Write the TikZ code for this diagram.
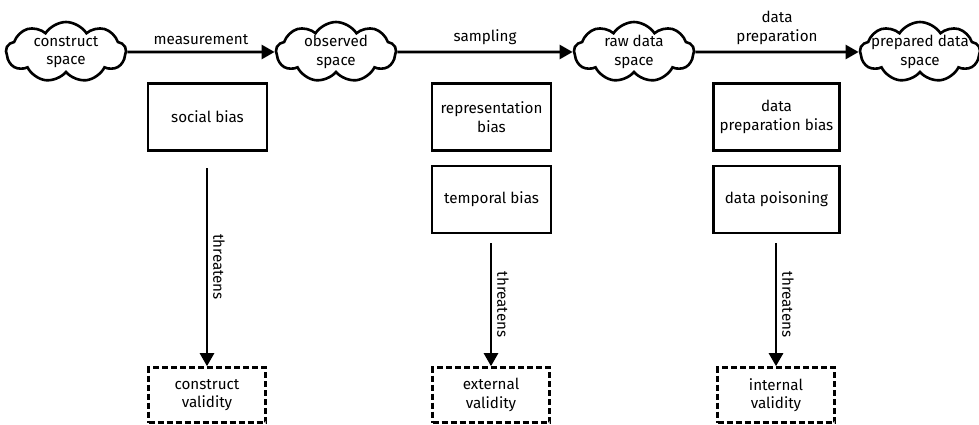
\documentclass[tikz,border=0pt]{standalone}
\usepackage{fontspec}
\setmainfont{Fira Sans}
\usetikzlibrary{shapes.symbols,arrows.meta}
\begin{document}
\begin{tikzpicture}[x=1pt,y=-1pt,
  every node/.style={font=\fontsize{15.2}{18.5}\selectfont, align=center},
  spacecloud/.style={cloud, draw, line width=2.6pt, cloud puffs=9, cloud puff arc=115, aspect=2.0, minimum width=120pt, minimum height=60pt, inner sep=0pt},
  biasbox/.style={draw, line width=2.6pt, minimum width=119pt, minimum height=67pt, inner sep=2pt},
  validbox/.style={draw, line width=2.6pt, dashed, dash pattern=on 6pt off 3pt, minimum width=117pt, minimum height=55pt, inner sep=2pt},
  flow/.style={line width=2.6pt, -{Triangle[length=13pt,width=14pt]}},
  tlabel/.style={rotate=-90, anchor=south, inner sep=5pt}
]
\useasboundingbox (0,0) rectangle (979,425);
\node[spacecloud, label={center:construct\\space}] (cs) at (66,52) {};
\node[spacecloud, label={center:observed\\space}] (os) at (336,52) {};
\node[spacecloud, label={center:raw data\\space}] (rs) at (634,52) {};
\node[spacecloud, label={center:prepared data\\space}] (ps) at (920,52) {};

\draw[flow] (cs.east) -- node[above, inner sep=6pt] (lm) {measurement} (os.west);
\draw[flow] (os.east) -- node[above, inner sep=6pt] (ls) {sampling} (rs.west);
\draw[flow] (rs.east) -- node[above, inner sep=6pt] (ld) {data\\preparation} (ps.west);

\node[biasbox] (sb) at (207.5,117) {social bias};
\node[biasbox] (rb) at (491.5,117) {representation\\bias};
\node[biasbox] (tb) at (491.5,199.5) {temporal bias};
\node[biasbox, minimum width=126pt] (db) at (776.5,117) {data\\preparation bias};
\node[biasbox, minimum width=126pt] (dp) at (776.5,199.5) {data poisoning};

\node[validbox] (cv) at (207,395) {construct\\validity};
\node[validbox] (ev) at (491,395) {external\\validity};
\node[validbox] (iv) at (776,395) {internal\\validity};

\coordinate (s1) at (207,168);
\coordinate (s2) at (491,243);
\coordinate (s3) at (776,243);
\draw[flow] (s1) -- node[tlabel] {threatens} (cv.north);
\draw[flow] (s2) -- node[tlabel] {threatens} (ev.north);
\draw[flow] (s3) -- node[tlabel] {threatens} (iv.north);
\end{tikzpicture}
\end{document}
